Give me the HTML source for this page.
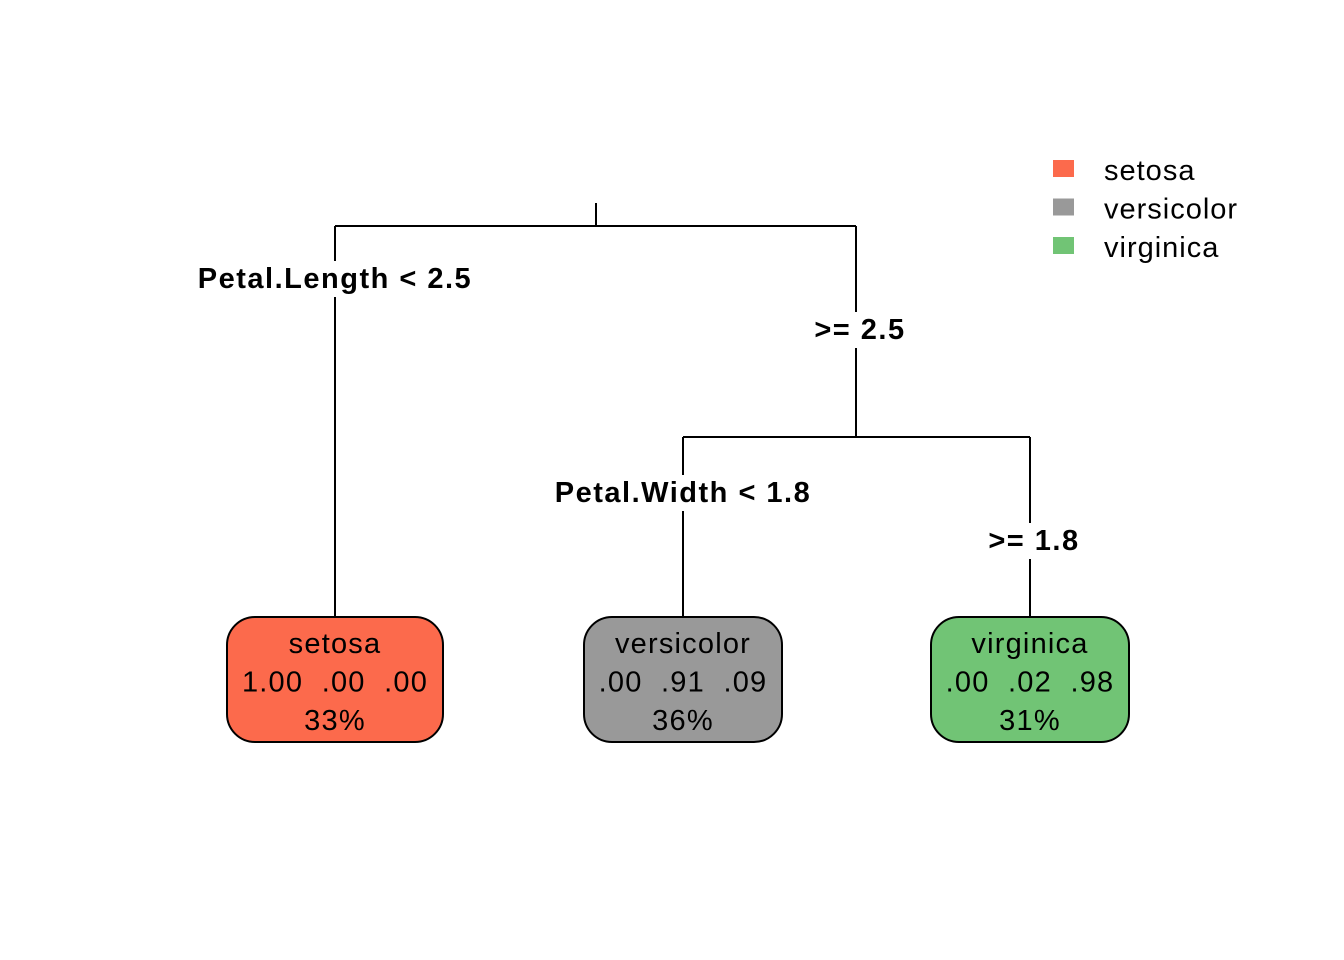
<!DOCTYPE html>
<html><head><meta charset="utf-8"><style>
html,body{margin:0;padding:0;background:#fff;}
svg{display:block;font-family:"Liberation Sans",Arial,sans-serif;}
</style></head><body>
<svg id="chart" width="1344" height="960" viewBox="0 0 1344 960"></svg>
<script>
const classes = ["setosa","versicolor","virginica"];
const classColors = ["#FC6A4C","#999999","#71C475"];
const leafClass = ["setosa","versicolor","virginica"];
const leafProbs = [["1.00",".00",".00"],[".00",".91",".09"],[".00",".02",".98"]];
const leafPct = ["33%","36%","31%"];
const splitLabels = ["Petal.Length < 2.5",">= 2.5","Petal.Width < 1.8",">= 1.8"];

const NS="http://www.w3.org/2000/svg";
const svg=document.getElementById('chart');
function mk(tag,attrs,parent){const e=document.createElementNS(NS,tag);for(const k in attrs)e.setAttribute(k,attrs[k]);(parent||svg).appendChild(e);return e;}

const leafX=[335,683,1030], leafW=[216,198,198], leafTop=617, leafH=125;
const rootX=596, rootY=203, y1=226, y2=437;
const lineStyle={stroke:"#000","stroke-width":2,fill:"none"};

let l=mk('path',Object.assign({d:`M${rootX} ${rootY}V${y1}M${leafX[0]} ${y1}H856M${leafX[0]} ${y1}V${leafTop}M856 ${y1}V${y2}M${leafX[1]} ${y2}H${leafX[2]}M${leafX[1]} ${y2}V${leafTop}M${leafX[2]} ${y2}V${leafTop}`},lineStyle));



const labelPos=[[335,278],[860,329],[683,492],[1034,540]];
splitLabels.forEach((s,i)=>{
  const g=mk('g',{});
  
  
  const t=mk('text',{x:labelPos[i][0],y:labelPos[i][1]+10,'text-anchor':'middle','font-size':29,'font-weight':'bold',fill:'#000','letter-spacing':1.5},g);
  t.textContent=s;
  const bb=t.getBBox();
  const r=mk('rect',{x:bb.x-4,y:bb.y-2,width:bb.width+8,height:bb.height+4,fill:'#fff'});
  g.insertBefore(r,t);
});

leafClass.forEach((c,i)=>{
  const g=mk('g',{});
  
  
  const ci=classes.indexOf(c);
  mk('rect',{x:leafX[i]-leafW[i]/2,y:leafTop,width:leafW[i],height:leafH,rx:28,ry:28,fill:classColors[ci],stroke:'#000','stroke-width':2},g);
  const lines=[c,leafProbs[i].join("  "),leafPct[i]];
  lines.forEach((s,j)=>{
    const t=mk('text',{x:leafX[i],y:leafTop+36+j*38.5,'text-anchor':'middle','font-size':29,fill:'#000','letter-spacing':1.2},g);
    t.style.whiteSpace='pre';
    t.textContent=s;
  });
});

classes.forEach((c,i)=>{
  const g=mk('g',{});
  
  
  mk('rect',{x:1053,y:160+i*38.5,width:21,height:17,fill:classColors[i]},g);
  const t=mk('text',{x:1104,y:180+i*38.5,'font-size':29,fill:'#000','letter-spacing':1},g);
  t.textContent=c;
});
</script>
</body></html>
